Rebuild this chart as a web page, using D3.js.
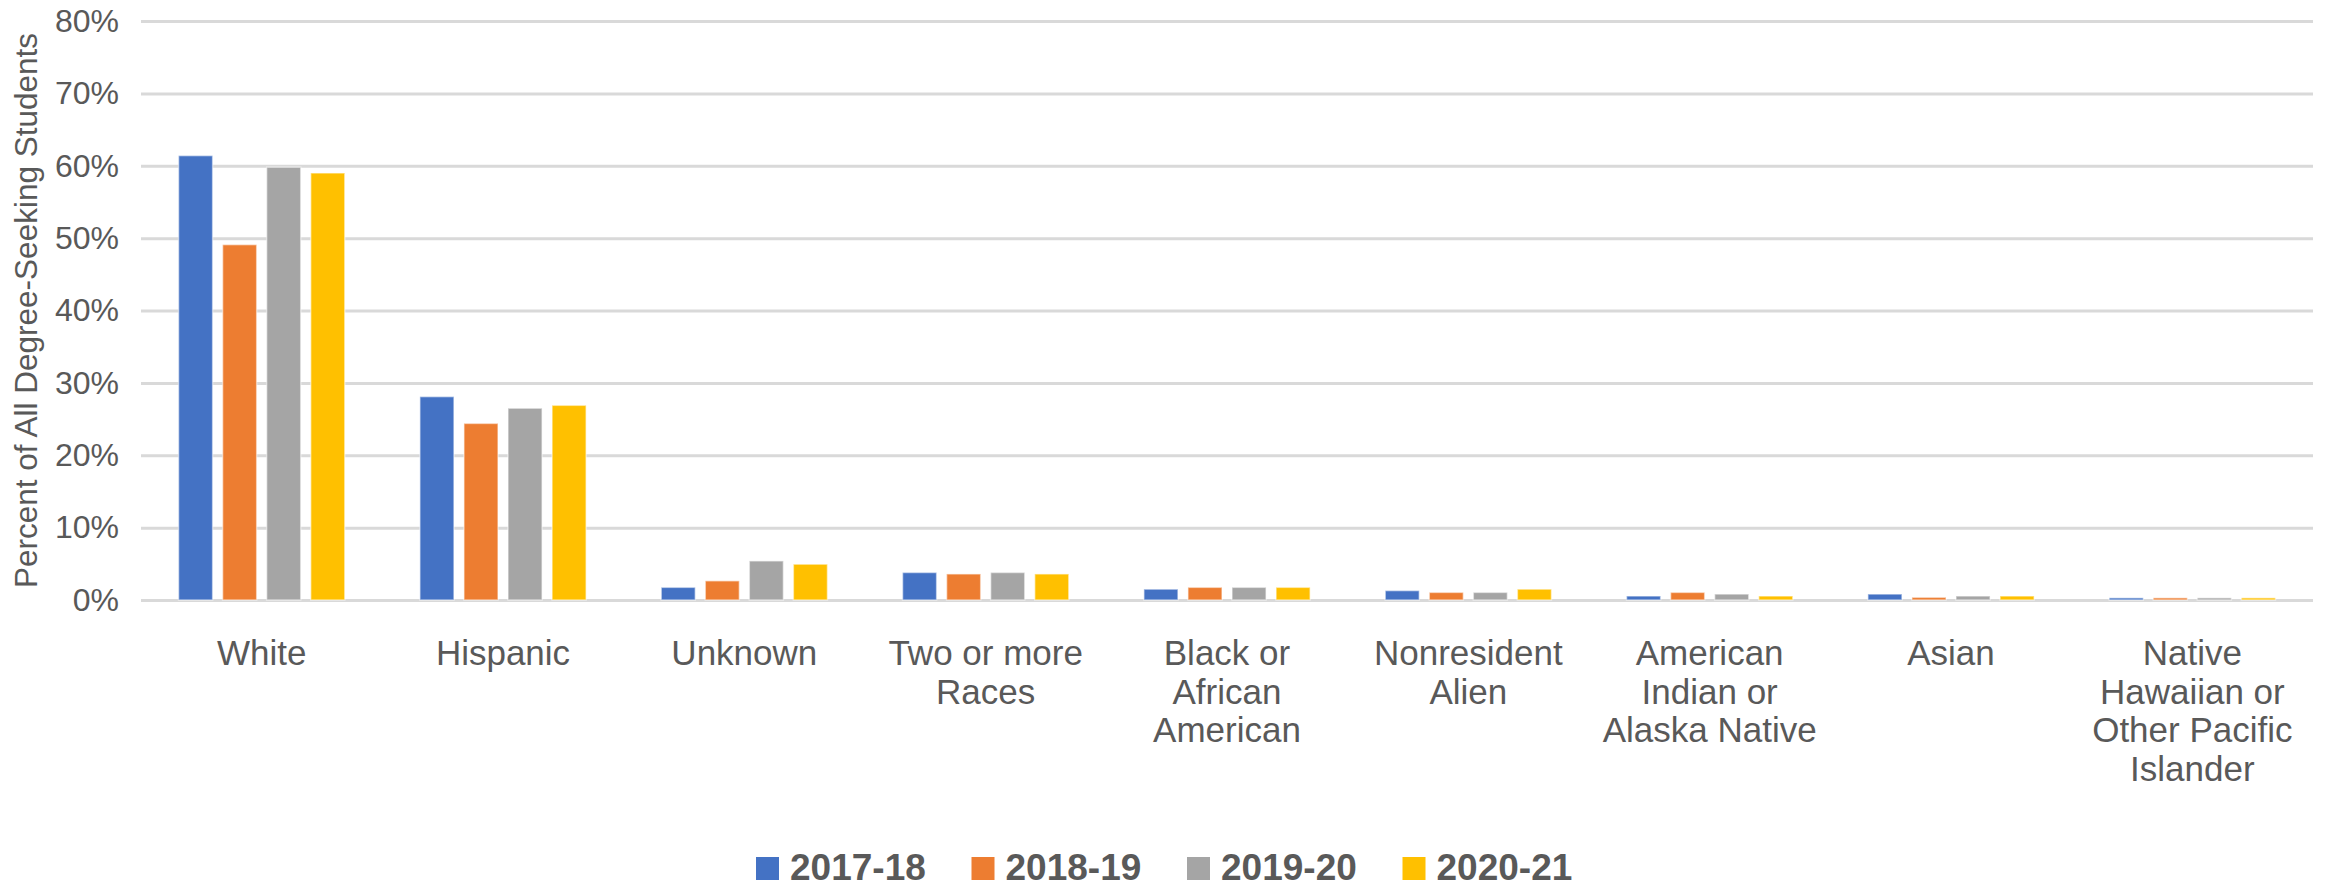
<!DOCTYPE html>
<html>
<head>
<meta charset="utf-8">
<script src="https://cdn.jsdelivr.net/npm/d3@7"></script>
<style>
  body { margin: 0; background: #fff; }
  svg text { font-family: "Liberation Sans Narrow", "Liberation Sans", sans-serif; fill: #595959; }
</style>
</head>
<body>
<script>
// categories, with the line breaks the chart uses
var categories = ["White", "Hispanic", "Unknown", "Two or more Races", "Black or African American",
  "Nonresident Alien", "American Indian or Alaska Native", "Asian", "Native Hawaiian or Other Pacific Islander"];
var categoryLines = [["White"], ["Hispanic"], ["Unknown"], ["Two or more", "Races"], ["Black or", "African", "American"],
  ["Nonresident", "Alien"], ["American", "Indian or", "Alaska Native"], ["Asian"], ["Native", "Hawaiian or", "Other Pacific", "Islander"]];

var years = ["2017-18", "2018-19", "2019-20", "2020-21"];
var colors = ["#4472c4", "#ed7d31", "#a5a5a5", "#ffc000"];

// percent of all degree-seeking students, one array per year
var y2017 = [61.4, 28.1, 1.75, 3.8, 1.5, 1.3, 0.55, 0.82, 0.3];
var y2018 = [49.1, 24.4, 2.65, 3.6, 1.75, 1.05, 1.05, 0.37, 0.3];
var y2019 = [59.8, 26.5, 5.4, 3.8, 1.75, 1.05, 0.82, 0.55, 0.3];
var y2020 = [59.0, 26.9, 4.95, 3.6, 1.75, 1.5, 0.55, 0.55, 0.3];
var series = [y2017, y2018, y2019, y2020];

var yTicks = [0, 10, 20, 30, 40, 50, 60, 70, 80];

var W = 2328, H = 888;
var plotLeft = 141, plotRight = 2313, plotTop = 21, plotBottom = 600;

var svg = d3.select("body").append("svg")
  .attr("width", W)
  .attr("height", H);

var x0 = d3.scaleBand()
  .domain(d3.range(categories.length))
  .range([plotLeft, plotRight])
  .paddingInner(0.27)
  .paddingOuter(0.135);

var x1 = d3.scaleBand()
  .domain(d3.range(years.length))
  .range([0, x0.bandwidth()])
  .paddingInner(0.227)
  .paddingOuter(0.113);

var y = d3.scaleLinear()
  .domain([0, 80])
  .range([plotBottom, plotTop]);

// gridlines + tick labels
var yAxis = d3.axisLeft(y)
  .tickValues(yTicks)
  .tickSize(-(plotRight - plotLeft))
  .tickPadding(22)
  .tickFormat(function (d) { return d + "%"; });

var gy = svg.append("g")
  .attr("transform", "translate(" + plotLeft + ",0)")
  .call(yAxis);
gy.select(".domain").remove();
gy.selectAll(".tick line").attr("stroke", "#d9d9d9").attr("stroke-width", 3);
gy.selectAll(".tick text")
  .attr("font-size", 32)
  .attr("fill", "#595959")
  .style("font-family", "\"Liberation Sans Narrow\", \"Liberation Sans\", sans-serif");

// bars
var groups = svg.selectAll(".group")
  .data(categories)
  .enter().append("g")
  .attr("class", "group")
  .attr("transform", function (d, i) { return "translate(" + x0(i) + ",0)"; });

groups.selectAll("rect")
  .data(function (d, i) { return series.map(function (s, j) { return { k: j, v: s[i] }; }); })
  .enter().append("rect")
  .attr("x", function (d) { return x1(d.k); })
  .attr("y", function (d) { return y(d.v); })
  .attr("width", x1.bandwidth())
  .attr("height", function (d) { return y(0) - y(d.v); })
  .attr("fill", function (d) { return colors[d.k]; })
  .attr("stroke", "#ffffff")
  .attr("stroke-opacity", 0.5)
  .attr("stroke-width", 1.5);

// category labels
groups.append("text")
  .attr("text-anchor", "middle")
  .attr("font-size", 35)
  .selectAll("tspan")
  .data(function (d, i) { return categoryLines[i]; })
  .enter().append("tspan")
  .attr("x", x0.bandwidth() / 2)
  .attr("y", function (d, i) { return 665 + i * 38.6; })
  .text(function (d) { return d; });

// y axis title
svg.append("text")
  .attr("transform", "translate(37," + ((plotTop + plotBottom) / 2) + ") rotate(-90)")
  .attr("text-anchor", "middle")
  .attr("font-size", 31.5)
  .text("Percent of All Degree-Seeking Students");

// legend
var legend = svg.selectAll(".legend")
  .data(years)
  .enter().append("g")
  .attr("class", "legend")
  .attr("transform", function (d, i) { return "translate(" + (756 + i * 215.5) + ",857)"; });

legend.append("rect")
  .attr("width", 23)
  .attr("height", 23)
  .attr("fill", function (d, i) { return colors[i]; });

legend.append("text")
  .attr("x", 34)
  .attr("y", 23)
  .attr("font-size", 37)
  .attr("font-weight", "bold")
  .text(function (d) { return d; });
</script>
</body>
</html>
